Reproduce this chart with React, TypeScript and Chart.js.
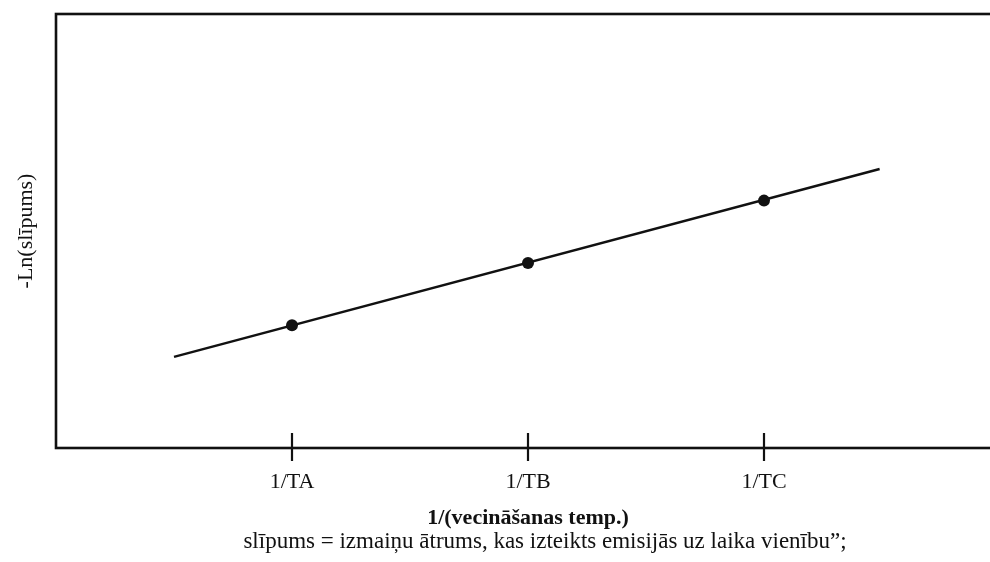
import React, { useEffect, useRef } from 'react';
import { Chart, registerables } from 'chart.js';

Chart.register(...registerables);

const tickValues = [1, 2, 3];
const tickLabels = ['1/TA', '1/TB', '1/TC'];
const pointX = [1, 2, 3];
const pointY = [2.83, 4.26, 5.7];
const fitX = [0.5, 3.49];
const fitY = [2.1, 6.43];
const xAxisTitle = '1/(vecināšanas temp.)';
const yAxisTitle = '-Ln(slīpums)';
const caption = 'slīpums = izmaiņu ātrums, kas izteikts emisijās uz laika vienību”;';

const FONT = '"Liberation Serif", "Times New Roman", serif';
const INK = '#111111';

const decor = {
  id: 'decor',
  afterDraw(chart: any) {
    const { ctx, chartArea: a, scales } = chart;
    ctx.save();
    ctx.strokeStyle = INK;
    ctx.lineWidth = 2.6;
    ctx.strokeRect(a.left, a.top, a.right - a.left, a.bottom - a.top);
    ctx.lineWidth = 2.2;
    tickValues.forEach((v) => {
      const x = scales.x.getPixelForValue(v);
      ctx.beginPath();
      ctx.moveTo(x, a.bottom - 15);
      ctx.lineTo(x, a.bottom + 13);
      ctx.stroke();
    });
    ctx.font = '23px ' + FONT;
    ctx.fillStyle = INK;
    ctx.textAlign = 'center';
    ctx.textBaseline = 'alphabetic';
    ctx.fillText(caption, 545, 548);
    ctx.restore();
  },
};

export default function App() {
  const ref = useRef<HTMLCanvasElement>(null);
  useEffect(() => {
    if (!ref.current) return;
    const chart = new Chart(ref.current, {
      type: 'scatter',
      data: {
        datasets: [
          {
            data: pointX.map((x, i) => ({ x, y: pointY[i] })),
            pointRadius: 6,
            pointBackgroundColor: INK,
            pointBorderWidth: 0,
            showLine: false,
          },
          {
            data: fitX.map((x, i) => ({ x, y: fitY[i] })),
            showLine: true,
            pointRadius: 0,
            borderColor: INK,
            borderWidth: 2.5,
          },
        ],
      },
      options: {
        responsive: false,
        animation: false,
        devicePixelRatio: 1,
        layout: { autoPadding: false, padding: { top: 14, left: 0, right: 0, bottom: 0 } },
        plugins: { legend: { display: false }, tooltip: { enabled: false }, title: { display: false } },
        scales: {
          x: {
            type: 'linear',
            min: 0,
            max: 4,
            afterBuildTicks: (s: any) => {
              s.ticks = tickValues.map((v) => ({ value: v }));
            },
            afterFit: (s: any) => {
              s.height = 114;
              s.paddingLeft = 0;
              s.paddingRight = 0;
            },
            ticks: {
              callback: (v: any) => {
                const i = tickValues.indexOf(Number(v));
                return i >= 0 ? tickLabels[i] : '';
              },
              font: { family: FONT, size: 22 },
              color: INK,
              padding: 21,
              maxRotation: 0,
              autoSkip: false,
            },
            grid: { display: false, drawTicks: false },
            border: { display: false },
            title: {
              display: true,
              text: xAxisTitle,
              font: { family: FONT, size: 22, weight: 'bold' },
              color: INK,
              padding: { top: 0, bottom: 30 },
            },
          },
          y: {
            type: 'linear',
            min: 0,
            max: 10,
            afterFit: (s: any) => {
              s.width = 56;
              s.paddingTop = 0;
              s.paddingBottom = 0;
            },
            ticks: { display: false },
            grid: { display: false, drawTicks: false },
            border: { display: false },
            title: {
              display: true,
              text: yAxisTitle,
              font: { family: FONT, size: 22 },
              color: INK,
              padding: { top: 13, bottom: 0 },
            },
          },
        },
      },
      plugins: [decor],
    } as any);
    return () => chart.destroy();
  }, []);
  return (
    <div style={{ position: 'absolute', left: 0, top: 0, width: 990, height: 562, overflow: 'hidden', background: '#fff' }}>
      <canvas ref={ref} width={1000} height={562} style={{ display: 'block' }} />
    </div>
  );
}
